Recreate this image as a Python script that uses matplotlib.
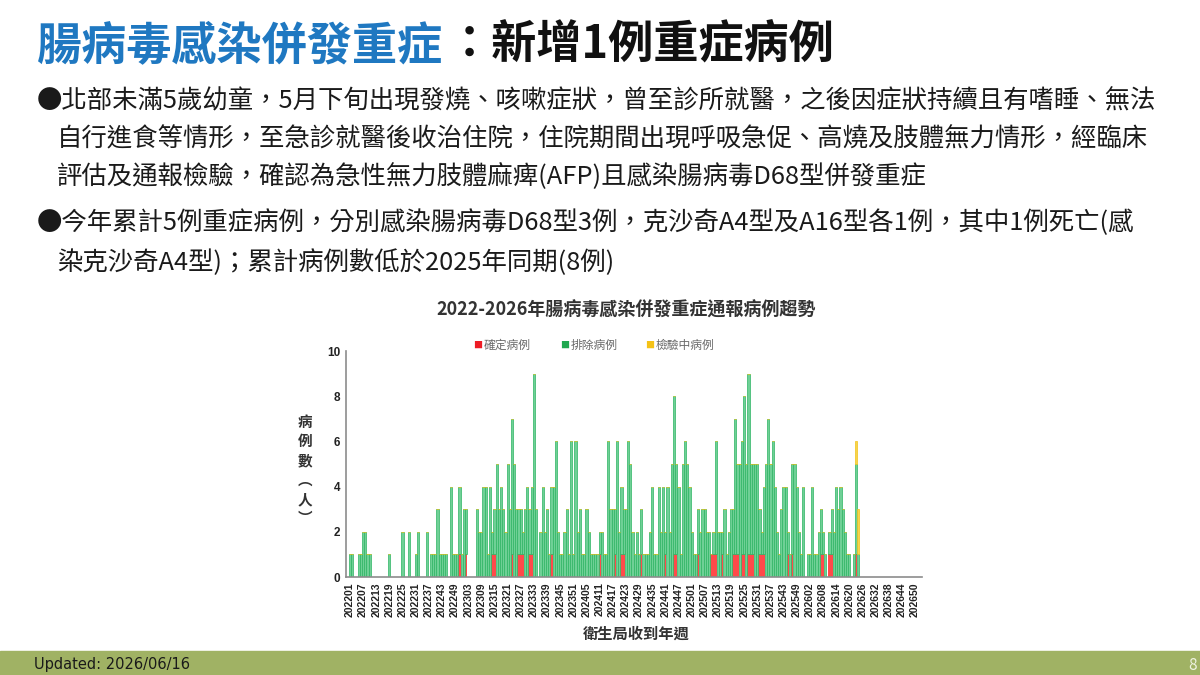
import matplotlib
matplotlib.use("Agg")
import matplotlib.pyplot as plt
import numpy as np

plt.rcParams['font.family'] = ['Noto Sans CJK TC', 'DejaVu Sans']

W, H = 1200, 675

# weekly report data, 2022w01 .. 2026w52
years = [2022, 2023, 2024, 2025, 2026]
weeks_per_year = [52, 52, 52, 53, 52]

# total reported cases per week
total_2022 = [1, 1, 0, 0, 1, 1, 2, 2, 1, 1, 0, 0, 0, 0, 0, 0, 0, 0, 1, 0,
              0, 0, 0, 0, 2, 0, 0, 2, 0, 0, 1, 2, 0, 0, 0, 2, 0, 1, 1, 1,
              3, 1, 1, 1, 1, 0, 4, 1, 1, 1, 4, 1]
total_2023 = [3, 3, 0, 0, 0, 0, 3, 2, 2, 4, 4, 1, 4, 2, 3, 5, 3, 4, 3, 2,
              5, 3, 7, 5, 3, 3, 3, 2, 3, 4, 3, 4, 9, 3, 0, 2, 4, 2, 3, 1,
              4, 4, 6, 2, 1, 1, 2, 3, 1, 6, 1, 6]
total_2024 = [2, 3, 1, 1, 3, 2, 1, 1, 1, 1, 2, 2, 1, 1, 6, 3, 3, 3, 6, 2,
              4, 3, 3, 6, 5, 2, 1, 2, 1, 3, 1, 1, 1, 2, 4, 1, 1, 4, 2, 4,
              2, 4, 2, 5, 8, 5, 4, 1, 5, 6, 5, 4]
total_2025 = [2, 1, 1, 3, 2, 3, 3, 2, 2, 1, 2, 6, 2, 2, 2, 3, 1, 2, 3, 3,
              7, 5, 5, 6, 8, 5, 9, 5, 5, 5, 5, 3, 2, 4, 5, 7, 5, 6, 4, 2,
              1, 3, 4, 4, 2, 1, 5, 5, 4, 2, 1, 4, 0]
total_2026 = [1, 1, 4, 1, 1, 2, 3, 2, 1, 0, 2, 3, 2, 4, 3, 4, 3, 2, 1, 1,
              0, 1, 6, 3, 0, 0, 0, 0, 0, 0, 0, 0, 0, 0, 0, 0, 0, 0, 0, 0,
              0, 0, 0, 0, 0, 0, 0, 0, 0, 0, 0, 0]

# confirmed (red) and pending (yellow) cases, by year-week label
confirmed = {"202251": 1, "202302": 1, "202314": 1, "202315": 1, "202323": 1,
             "202326": 1, "202327": 1, "202328": 1, "202331": 1, "202332": 1,
             "202341": 1, "202411": 1, "202418": 1, "202421": 1, "202422": 1,
             "202430": 1, "202441": 1, "202445": 1, "202446": 1, "202504": 1,
             "202510": 1, "202511": 1, "202512": 1, "202515": 1, "202520": 1,
             "202521": 1, "202522": 1, "202524": 1, "202525": 1, "202527": 1,
             "202528": 1, "202529": 1, "202532": 1, "202533": 1, "202534": 1,
             "202545": 1, "202547": 1, "202607": 1, "202608": 1, "202611": 1,
             "202612": 1, "202623": 1}
pending = {"202623": 1, "202624": 2}

week_labels = [f"{y}{w:02d}" for y, n in zip(years, weeks_per_year) for w in range(1, n + 1)]
total = np.array(total_2022 + total_2023 + total_2024 + total_2025 + total_2026)
red = np.array([confirmed.get(k, 0) for k in week_labels])
yellow = np.array([pending.get(k, 0) for k in week_labels])
green = total - red - yellow
x = np.arange(len(week_labels))

fig = plt.figure(figsize=(12, 6.75), dpi=100)
fig.patch.set_facecolor('white')


def px(xp, yp):
    return xp / W, 1 - yp / H


# slide title
fig.text(*px(37, 46), "腸病毒感染併發重症", fontsize=32.5, fontweight='bold',
         color='#1f78c1', va='center', ha='left')
fig.text(*px(447, 46), "：新增1例重症病例", fontsize=32.5, fontweight='bold',
         color='#111111', va='center', ha='left')

# bullet text
lines = [
    (37, 101, "●北部未滿5歲幼童，5月下旬出現發燒、咳嗽症狀，曾至診所就醫，之後因症狀持續且有嗜睡、無法"),
    (57, 139, "自行進食等情形，至急診就醫後收治住院，住院期間出現呼吸急促、高燒及肢體無力情形，經臨床"),
    (57, 177, "評估及通報檢驗，確認為急性無力肢體麻痺(AFP)且感染腸病毒D68型併發重症"),
    (37, 223, "●今年累計5例重症病例，分別感染腸病毒D68型3例，克沙奇A4型及A16型各1例，其中1例死亡(感"),
    (57, 263, "染克沙奇A4型)；累計病例數低於2025年同期(8例)"),
]
for lx, ly, s in lines:
    fig.text(*px(lx, ly), s, fontsize=18.3, color='#1a1a1a', va='center', ha='left')

# chart
ax = fig.add_axes([346 / W, 1 - 577 / H, (922 - 346) / W, (577 - 351) / H])
ax.bar(x, red, width=1.0, color='#ff2a2a', alpha=0.85, linewidth=0)
ax.bar(x, green, bottom=red, width=1.0, color='#6fd096',
       edgecolor='#2db463', linewidth=0.5)
ax.bar(x, yellow, bottom=red + green, width=1.0, color='#f7d44c',
       edgecolor='#f2c318', linewidth=0.5)

ax.set_xlim(-1.8, 261.2)
ax.set_ylim(0, 10)
ax.set_yticks(range(0, 11, 2))
ax.set_xticks(x[::6])
ax.set_xticklabels(week_labels[::6], rotation=90, fontsize=7.5, fontweight='bold',
                   family=['Liberation Sans', 'DejaVu Sans'])
for t in ax.get_yticklabels():
    t.set_fontsize(8.5)
    t.set_fontweight('bold')
    t.set_family(['Liberation Sans', 'DejaVu Sans'])
ax.tick_params(axis='both', length=0, pad=4, colors='#222222')
for s in ['top', 'right']:
    ax.spines[s].set_visible(False)
for s in ['left', 'bottom']:
    ax.spines[s].set_color('#8c8c8c')
    ax.spines[s].set_linewidth(1.2)

fig.text(*px(626, 310), "2022-2026年腸病毒感染併發重症通報病例趨勢", fontsize=13,
         fontweight='bold', color='#333333', ha='center', va='center')

# legend
for lx, col, lab in [(473, '#ee1c25', '確定病例'), (560, '#1fa84f', '排除病例'),
                     (645, '#f5c216', '檢驗中病例')]:
    fig.text(*px(lx, 345), "■", fontsize=6.5, color=col, ha='left', va='center')
    fig.text(*px(lx + 11, 345), lab, fontsize=8.5, color='#6a6a6a', ha='left', va='center')

fig.text(*px(305, 470), "病\n例\n數\n︵\n人\n︶", fontsize=10.5, fontweight='bold',
         color='#333333', ha='center', va='center', linespacing=1.25)
fig.text(*px(636, 634), "衛生局收到年週", fontsize=11, fontweight='bold',
         color='#333333', ha='center', va='center')

# footer bar
fig.patches.append(plt.Rectangle((0, 0), 1, 24 / H, transform=fig.transFigure,
                                 color='#a0b264', zorder=0))
fig.text(*px(34, 665), "Updated: 2026/06/16", fontsize=10.5, color='#1a1a1a',
         ha='left', va='center', family=['Liberation Sans Narrow', 'DejaVu Sans'])
fig.text(*px(1188, 665), "8", fontsize=11, color='#eef2e0', ha='left', va='center')

fig.savefig("out.png", dpi=100)
